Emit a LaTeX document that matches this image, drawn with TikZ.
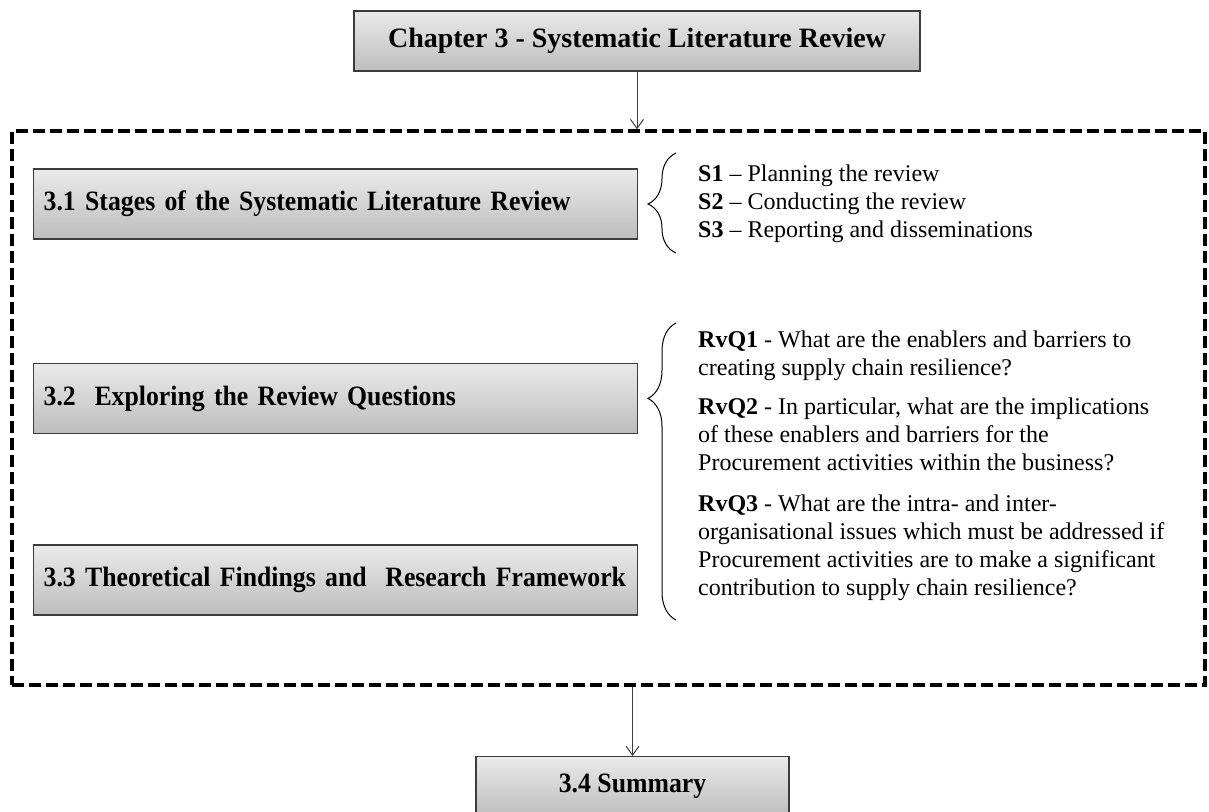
\documentclass[tikz,border=0pt]{standalone}
\usepackage{fontspec}
\setmainfont{Liberation Serif}
\newfontfamily\boxfont[FakeStretch=0.92]{Liberation Serif}
\usetikzlibrary{arrows.meta,decorations.pathreplacing,calc}

\definecolor{boxtop}{HTML}{EAEAEA}
\definecolor{boxbot}{HTML}{BDBDBD}
\definecolor{boxline}{HTML}{3C3C3C}

\begin{document}
\begin{tikzpicture}[x=1pt,y=-1pt,
  sectionbox/.style={draw=boxline, line width=1.3pt, top color=boxtop,
    bottom color=boxbot, font=\boxfont\fontsize{28}{32}\selectfont\bfseries,
    inner ysep=0pt},
  titlebox/.style={sectionbox, font=\fontsize{28}{32}\selectfont\bfseries},
  leftbox/.style={sectionbox, text width=584pt, inner xsep=10pt,
    minimum height=70pt, align=left, anchor=west},
  plaintext/.style={inner sep=0pt, align=left,
    font=\fontsize{24}{28}\selectfont},
  flow/.style={draw=boxline, line width=1pt,
    -{Straight Barb[length=9pt,width=13pt]}},
  bracket/.style={draw=black, line width=1pt, decorate},
  frame/.style={draw=black, line width=3.5pt, dash pattern=on 12pt off 5pt,
    inner sep=0pt}
]
\useasboundingbox (0,0) rectangle (1209,811);

% chapter title
\node[titlebox, minimum width=566pt, minimum height=60pt] (title)
  at (637,41) {Chapter 3 - Systematic Literature Review};

% dashed frame holding the chapter sections
\node[frame, minimum width=1193pt, minimum height=554pt] (frame)
  at (608.5,408) {};

% sections
\node[leftbox] (s31) at (33,204)
  {3.1 Stages of the Systematic Literature Review};
\node[leftbox] (s32) at (33,398.5)
  {3.2\ \ Exploring the Review Questions};
\node[leftbox] (s33) at (33,580)
  {3.3 Theoretical Findings and\ \ Research Framework};

% braces
\coordinate (b1bot) at (676,253);
\coordinate (b1top) at (676,153);
\draw[bracket, decoration={brace, amplitude=28pt, aspect=0.49}]
  (b1bot) -- (b1top);
\coordinate (b2bot) at (676,620);
\coordinate (b2top) at (676,323);
\draw[bracket, decoration={brace, amplitude=28pt, aspect=0.746}]
  (b2bot) -- (b2top);

% review stages
\node[plaintext, anchor=west] (stages) at (698,204)
  {\textbf{S1} – Planning the review\\
   \textbf{S2} – Conducting the review\\
   \textbf{S3} – Reporting and disseminations};

% review questions
\node[plaintext, anchor=north west] (questions) at (698,331)
  {\textbf{RvQ1} - What are the enablers and barriers to\\
   creating supply chain resilience?\\[11pt]
   \textbf{RvQ2} - In particular, what are the implications\\
   of these enablers and barriers for the\\
   Procurement activities within the business?\\[13pt]
   \textbf{RvQ3} - What are the intra- and inter-\\
   organisational issues which must be addressed if\\
   Procurement activities are to make a significant\\
   contribution to supply chain resilience?};

% summary
\node[sectionbox, minimum width=313pt, minimum height=60pt, anchor=north]
  (summary) at (632.5,756) {3.4 Summary};

% flow arrows
\draw[flow] (title.south) -- (title.south |- frame.north);
\draw[flow] (summary.north |- frame.south) -- (summary.north);
\end{tikzpicture}
\end{document}
